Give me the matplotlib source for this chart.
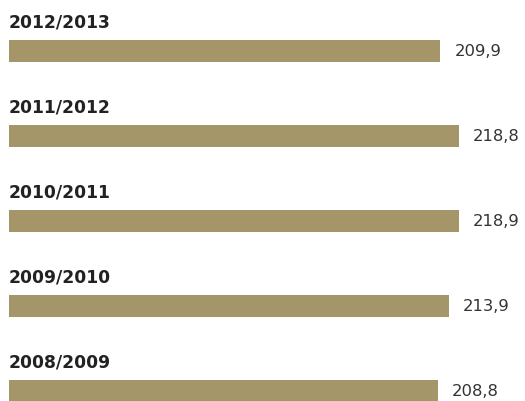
import matplotlib
matplotlib.use("Agg")
import matplotlib.pyplot as plt

seasons = ["2012/2013", "2011/2012", "2010/2011", "2009/2010", "2008/2009"]
values = [209.9, 218.8, 218.9, 213.9, 208.8]
value_labels = ["209,9", "218,8", "218,9", "213,9", "208,8"]

bar_color = "#A5966A"

fig = plt.figure(figsize=(5.25, 4.01), dpi=100)
W, H = 525, 401
left_px = 9
ax = fig.add_axes([left_px / W, 0, 1 - left_px / W, 1])
px_per_unit = 2.055
ax.set_xlim(0, (W - left_px) / px_per_unit)

spacing = 85.1
top_center = 51
top = -top_center / spacing
ax.set_ylim(top + H / spacing, top)

ys = list(range(len(seasons)))
ax.barh(ys, values, height=22 / spacing, color=bar_color, left=0)

for y, v, s, lab in zip(ys, values, seasons, value_labels):
    ax.text(0, y - 24 / spacing, s, ha="left", va="baseline",
            fontsize=12.3, fontweight="bold", color="#222222", family="DejaVu Sans")
    ax.text(v + 14 / px_per_unit, y, lab, ha="left", va="center",
            fontsize=11.8, color="#333333", family="DejaVu Sans")

ax.axis("off")
fig.savefig("out.png", dpi=100)
